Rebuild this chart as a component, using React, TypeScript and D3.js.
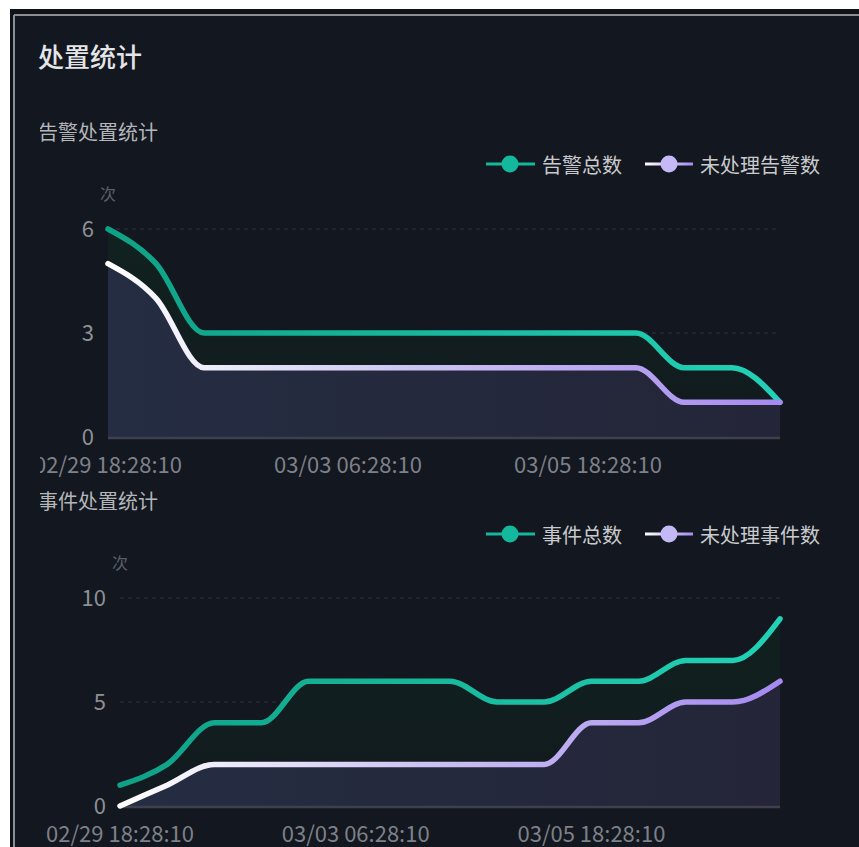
import React from "react";
import * as d3 from "d3";

const categories = [
  "02/29 18:28:10", "03/01 06:28:10", "03/01 18:28:10", "03/02 06:28:10", "03/02 18:28:10",
  "03/03 06:28:10", "03/03 18:28:10", "03/04 06:28:10", "03/04 18:28:10", "03/05 06:28:10",
  "03/05 18:28:10", "03/06 06:28:10", "03/06 18:28:10", "03/07 06:28:10", "03/07 18:28:10",
];
const labelIdx = [0, 5, 10];

const alarmTotal = [6, 5, 3, 3, 3, 3, 3, 3, 3, 3, 3, 3, 2, 2, 1];
const alarmPending = [5, 4, 2, 2, 2, 2, 2, 2, 2, 2, 2, 2, 1, 1, 1];
const alarmTicks = [0, 3, 6];

const eventTotal = [1, 2, 4, 4, 6, 6, 6, 6, 5, 5, 6, 6, 7, 7, 9];
const eventPending = [0, 1, 2, 2, 2, 2, 2, 2, 2, 2, 4, 4, 5, 5, 6];
const eventTicks = [0, 5, 10];

const FONT = "'Noto Sans CJK SC', 'Noto Sans', sans-serif";

type ChartProps = {
  id: string;
  subtitle: string;
  subtitleY: number;
  legendY: number;
  legendNames: [string, string];
  total: number[];
  pending: number[];
  ticks: number[];
  yMax: number;
  x0: number;
  x1: number;
  yTop: number;
  yBottom: number;
};

function Chart(p: ChartProps) {
  const x = d3.scalePoint<number>().domain(d3.range(categories.length)).range([p.x0, p.x1]);
  const y = d3.scaleLinear().domain([0, p.yMax]).range([p.yBottom, p.yTop]);
  const line = d3.line<number>().x((_, i) => x(i)!).y((d) => y(d)).curve(d3.curveMonotoneX);
  const area = d3.area<number>().x((_, i) => x(i)!).y0(y(0)).y1((d) => y(d)).curve(d3.curveMonotoneX);
  const gG = `${p.id}-green`;
  const gP = `${p.id}-purple`;
  const gA = `${p.id}-parea`;
  const gGA = `${p.id}-garea`;
  const gL = `${p.id}-leg`;
  return (
    <g>
      <defs>
        <linearGradient id={gG} gradientUnits="userSpaceOnUse" x1={p.x0} x2={p.x1} y1={0} y2={0}>
          <stop offset="0" stopColor="#0fa186" />
          <stop offset="1" stopColor="#22d2b6" />
        </linearGradient>
        <linearGradient id={gP} gradientUnits="userSpaceOnUse" x1={p.x0} x2={p.x1} y1={0} y2={0}>
          <stop offset="0" stopColor="#ffffff" />
          <stop offset="0.45" stopColor="#cdc4f2" />
          <stop offset="1" stopColor="#a68af0" />
        </linearGradient>
        <linearGradient id={gA} gradientUnits="userSpaceOnUse" x1={p.x0} x2={p.x1} y1={0} y2={0}>
          <stop offset="0" stopColor="#252d42" />
          <stop offset="1" stopColor="#242538" />
        </linearGradient>
        <linearGradient id={gGA} gradientUnits="userSpaceOnUse" x1={0} x2={0} y1={p.yTop} y2={p.yBottom}>
          <stop offset="0" stopColor="#10221f" />
          <stop offset="1" stopColor="#121a1f" />
        </linearGradient>
        <linearGradient id={gL} gradientUnits="userSpaceOnUse" x1={645} x2={693} y1={0} y2={0}>
          <stop offset="0" stopColor="#ffffff" />
          <stop offset="1" stopColor="#a68af0" />
        </linearGradient>
      </defs>
      <text x={38} y={p.subtitleY} dominantBaseline="central" fontSize={20} fill="#b4b6ba" fontFamily={FONT}>
        {p.subtitle}
      </text>
      {/* legend */}
      <g fontFamily={FONT} fontSize={20}>
        <line x1={486} x2={535} y1={p.legendY} y2={p.legendY} stroke="#14b89c" strokeWidth={3} />
        <circle cx={510} cy={p.legendY} r={8.5} fill="#14b89c" />
        <text x={542} y={p.legendY} dominantBaseline="central" fill="#c9cacd">{p.legendNames[0]}</text>
        <line x1={645} x2={693} y1={p.legendY} y2={p.legendY} stroke={`url(#${gL})`} strokeWidth={3} />
        <circle cx={669} cy={p.legendY} r={8.5} fill="#c4b9f6" />
        <text x={700} y={p.legendY} dominantBaseline="central" fill="#c9cacd">{p.legendNames[1]}</text>
      </g>
      {/* unit */}
      <text x={p.x0} y={p.yTop - 36} textAnchor="middle" dominantBaseline="central" fontSize={16} fill="#5b606a" fontFamily={FONT}>
        次
      </text>
      {/* grid */}
      {p.ticks.filter((t) => t > 0).map((t) => (
        <line key={t} x1={p.x0} x2={p.x1} y1={y(t)} y2={y(t)} stroke="#2e333d" strokeWidth={1.2} strokeDasharray="4 4" />
      ))}
      {/* areas */}
      <path d={area(p.total)!} fill={`url(#${gGA})`} />
      <path d={area(p.pending)!} fill={`url(#${gA})`} />
      {/* axis line */}
      <line x1={p.x0} x2={p.x1} y1={y(0) + 1} y2={y(0) + 1} stroke="#3d414d" strokeWidth={2.5} />
      {/* y labels */}
      {p.ticks.map((t) => (
        <text key={t} x={p.x0 - 14} y={y(t) - 2} textAnchor="end" dominantBaseline="central" fontSize={22} fill="#8e9096" fontFamily={FONT}>
          {t}
        </text>
      ))}
      {/* x labels */}
      {labelIdx.map((i) => (
        <text key={i} x={x(i)!} y={p.yBottom + 26} textAnchor="middle" dominantBaseline="central" fontSize={22} fill="#7e8188" fontFamily={FONT}>
          {categories[i]}
        </text>
      ))}
      {/* lines */}
      <path d={line(p.total)!} fill="none" stroke={`url(#${gG})`} strokeWidth={5.5} strokeLinecap="round" />
      <path d={line(p.pending)!} fill="none" stroke={`url(#${gP})`} strokeWidth={5.5} strokeLinecap="round" />
    </g>
  );
}

export default function App() {
  return (
    <div style={{ position: "absolute", left: 0, top: 0, width: 859, height: 847, overflow: "hidden" }}>
      <svg width={859} height={847} style={{ display: "block" }}>
        <defs>
          <clipPath id="panelClip">
            <rect x={40} y={16} width={860} height={840} />
          </clipPath>
        </defs>
        <rect x={0} y={0} width={859} height={847} fill="#ffffff" />
        <rect x={10} y={9} width={860} height={850} fill="#0f1217" />
        <rect x={15} y={16} width={860} height={850} fill="#13171f" />
        <line x1={14} x2={859} y1={15} y2={15} stroke="#8a8f96" strokeWidth={2} />
        <line x1={14} x2={14} y1={15} y2={847} stroke="#8a8f96" strokeWidth={2} />
        <text x={38} y={55} dominantBaseline="central" fontSize={26} fontWeight={500} fill="#e4e5e7" fontFamily={FONT}>
          处置统计
        </text>
        <g clipPath="url(#panelClip)">
          <Chart
            id="c1"
            subtitle="告警处置统计"
            subtitleY={131}
            legendY={164}
            legendNames={["告警总数", "未处理告警数"]}
            total={alarmTotal}
            pending={alarmPending}
            ticks={alarmTicks}
            yMax={6}
            x0={108}
            x1={780}
            yTop={229}
            yBottom={437}
          />
          <Chart
            id="c2"
            subtitle="事件处置统计"
            subtitleY={500}
            legendY={534}
            legendNames={["事件总数", "未处理事件数"]}
            total={eventTotal}
            pending={eventPending}
            ticks={eventTicks}
            yMax={10}
            x0={120}
            x1={780}
            yTop={598}
            yBottom={806}
          />
        </g>
      </svg>
    </div>
  );
}
